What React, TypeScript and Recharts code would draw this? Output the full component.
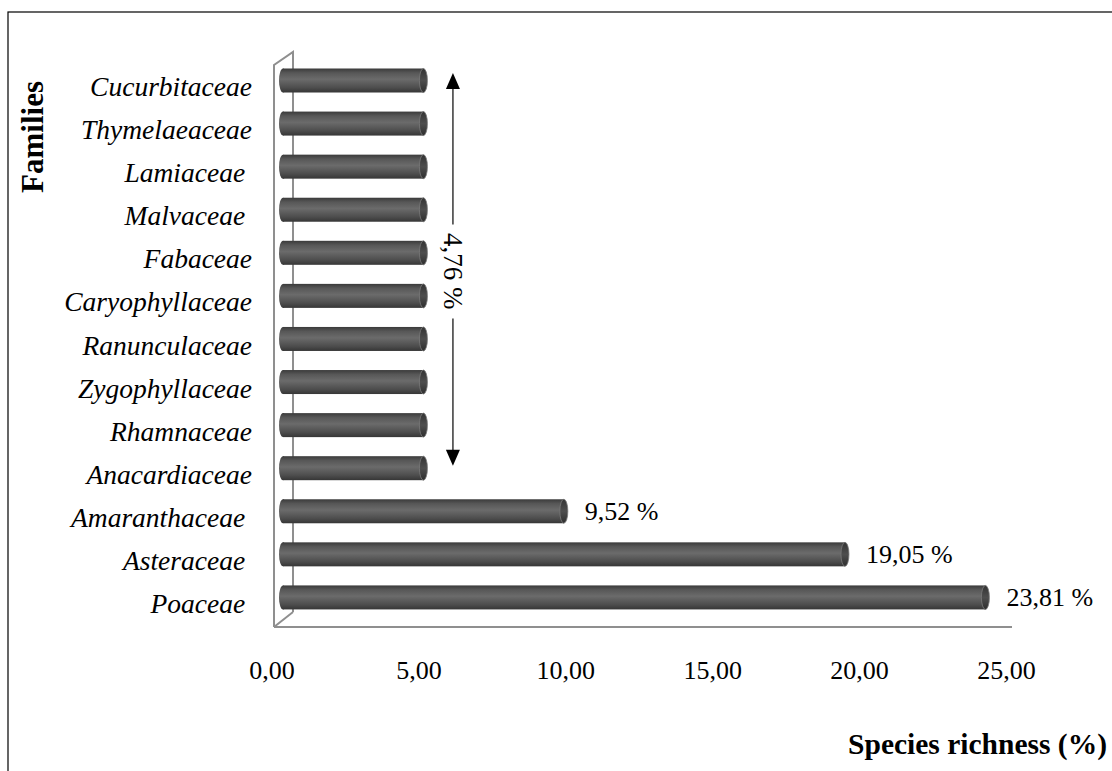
import React from "react";
import {
  Bar,
  BarChart,
  Customized,
  LabelList,
  ReferenceLine,
  XAxis,
  YAxis,
} from "recharts";

const families = [
  "Cucurbitaceae",
  "Thymelaeaceae",
  "Lamiaceae\u00a0",
  "Malvaceae\u00a0",
  "Fabaceae",
  "Caryophyllaceae",
  "Ranunculaceae",
  "Zygophyllaceae",
  "Rhamnaceae",
  "Anacardiaceae",
  "Amaranthaceae\u00a0",
  "Asteraceae\u00a0",
  "Poaceae\u00a0",
];
const richness = [
  4.76, 4.76, 4.76, 4.76, 4.76, 4.76, 4.76, 4.76, 4.76, 4.76, 9.52, 19.05, 23.81,
];
const xTicks = [0, 5, 10, 15, 20, 25];
const groupLabel = "4,76 %";
const arrowAt = 5.76;

const data = families.map((family, i) => ({ family, value: richness[i] }));

const W = 1112;
const H = 771;
const PLOT_LEFT = 283;
const PLOT_TOP = 58.5;
const PLOT_BOTTOM = 618.5;
const PLOT_RIGHT = 1020.5;
const FONT = '"Liberation Serif", "Times New Roman", serif';
const WALL = "#8f8f8f";

const fmt = (v: number) => v.toFixed(2).replace(".", ",");

function Cylinder(props: any) {
  const { x, y, width, height } = props;
  if (!width || width <= 0) return null;
  const cy = y + height / 2;
  return (
    <g>
      <ellipse cx={x} cy={cy} rx={4} ry={height / 2} fill="url(#cyl)" />
      <rect x={x} y={y} width={width} height={height} fill="url(#cyl)" />
      <ellipse
        cx={x + width}
        cy={cy}
        rx={4}
        ry={height / 2}
        fill="url(#cap)"
        stroke="#7a7a7a"
        strokeWidth={0.8}
      />
    </g>
  );
}

function Wall() {
  const fx = PLOT_LEFT - 9;
  const bx = PLOT_LEFT + 10;
  return (
    <g fill="none" stroke={WALL} strokeWidth={2}>
      <polyline
        points={`${fx},${PLOT_BOTTOM + 8.5} ${fx},${PLOT_TOP + 6.5} ${bx},${PLOT_TOP - 6.5} ${bx},${PLOT_BOTTOM - 6.5}`}
      />
      <line x1={fx} y1={PLOT_BOTTOM + 8.5} x2={bx} y2={PLOT_BOTTOM - 6.5} />
      <line x1={fx} y1={PLOT_BOTTOM + 8.5} x2={PLOT_RIGHT - 8.5} y2={PLOT_BOTTOM + 8.5} />
    </g>
  );
}

function GroupArrow(props: any) {
  const { x1, y1, y2 } = props;
  const top = y1 - 7;
  const bottom = y2 - 2;
  const mid = (top + bottom) / 2 + 2;
  const gap = 47;
  return (
    <g>
      <line x1={x1} y1={top + 14} x2={x1} y2={mid - gap} stroke="#444" strokeWidth={1.6} />
      <line x1={x1} y1={mid + gap} x2={x1} y2={bottom - 14} stroke="#444" strokeWidth={1.6} />
      <polygon points={`${x1},${top} ${x1 - 7},${top + 16} ${x1 + 7},${top + 16}`} fill="#000" />
      <polygon
        points={`${x1},${bottom} ${x1 - 7},${bottom - 16} ${x1 + 7},${bottom - 16}`}
        fill="#000"
      />
      <text
        x={x1 - 9}
        y={mid}
        transform={`rotate(90, ${x1 - 9}, ${mid})`}
        textAnchor="middle"
        fontFamily={FONT}
        fontSize={27}
        fill="#000"
      >
        {groupLabel}
      </text>
    </g>
  );
}

function YTick(props: any) {
  const { x, y, payload } = props;
  return (
    <text
      x={x - 31}
      y={y + 16}
      textAnchor="end"
      fontFamily={FONT}
      fontStyle="italic"
      fontSize={27.5}
      fill="#000"
      style={{ whiteSpace: "pre" }}
    >
      {payload.value}
    </text>
  );
}

function XTick(props: any) {
  const { x, y, payload } = props;
  const v = Number(payload.value);
  return (
    <text
      x={x - 11 - 0.12 * v}
      y={y + 60}
      textAnchor="middle"
      fontFamily={FONT}
      fontSize={26}
      fill="#000"
    >
      {fmt(v)}
    </text>
  );
}

function ValueLabel(props: any) {
  const { x, y, width, height, value } = props;
  if (Number(value) < 5) return null;
  return (
    <text
      x={x + width + 21}
      y={y + height / 2 + 9}
      fontFamily={FONT}
      fontSize={26}
      fill="#000"
    >
      {`${fmt(Number(value))} %`}
    </text>
  );
}

export default function App() {
  return (
    <div
      style={{
        position: "absolute",
        left: 0,
        top: 0,
        width: W,
        height: H,
        background: "#fff",
        overflow: "hidden",
      }}
    >
      <BarChart
        width={W}
        height={H}
        data={data}
        layout="vertical"
        barSize={24}
        margin={{ top: PLOT_TOP, right: W - PLOT_RIGHT, bottom: H - PLOT_BOTTOM - 40, left: 0 }}
      >
        <defs>
          <linearGradient id="cyl" x1="0" y1="0" x2="0" y2="1">
            <stop offset="0%" stopColor="#3a3a3a" />
            <stop offset="18%" stopColor="#575757" />
            <stop offset="45%" stopColor="#6b6b6b" />
            <stop offset="80%" stopColor="#4d4d4d" />
            <stop offset="100%" stopColor="#363636" />
          </linearGradient>
          <linearGradient id="cap" x1="0" y1="0" x2="0" y2="1">
            <stop offset="0%" stopColor="#333" />
            <stop offset="50%" stopColor="#4e4e4e" />
            <stop offset="100%" stopColor="#2e2e2e" />
          </linearGradient>
        </defs>
        <Customized
          component={() => (
            <g>
              <rect x={8} y={12} width={W + 10} height={H + 10} fill="none" stroke="#000" strokeWidth={1.2} />
              <Wall />
              <text
                x={43}
                y={137}
                transform="rotate(-90, 43, 137)"
                textAnchor="middle"
                fontFamily={FONT}
                fontWeight="bold"
                fontSize={31}
                fill="#000"
              >
                Families
              </text>
              <text
                x={1107}
                y={754}
                textAnchor="end"
                fontFamily={FONT}
                fontWeight="bold"
                fontSize={29.5}
                fill="#000"
              >
                Species richness (%)
              </text>
            </g>
          )}
        />
        <XAxis
          type="number"
          domain={[0, 25]}
          ticks={xTicks}
          height={40}
          axisLine={false}
          tickLine={false}
          tickSize={0}
          tickMargin={0}
          tick={XTick}
          interval={0}
        />
        <YAxis
          type="category"
          dataKey="family"
          width={PLOT_LEFT}
          axisLine={false}
          tickLine={false}
          tickSize={0}
          tickMargin={0}
          tick={YTick}
          interval={0}
        />
        <Bar dataKey="value" shape={Cylinder} isAnimationActive={false}>
          <LabelList dataKey="value" content={ValueLabel} />
        </Bar>
        <ReferenceLine
          segment={[
            { x: arrowAt, y: families[0] },
            { x: arrowAt, y: families[9] },
          ]}
          shape={GroupArrow}
          ifOverflow="visible"
        />
      </BarChart>
    </div>
  );
}
